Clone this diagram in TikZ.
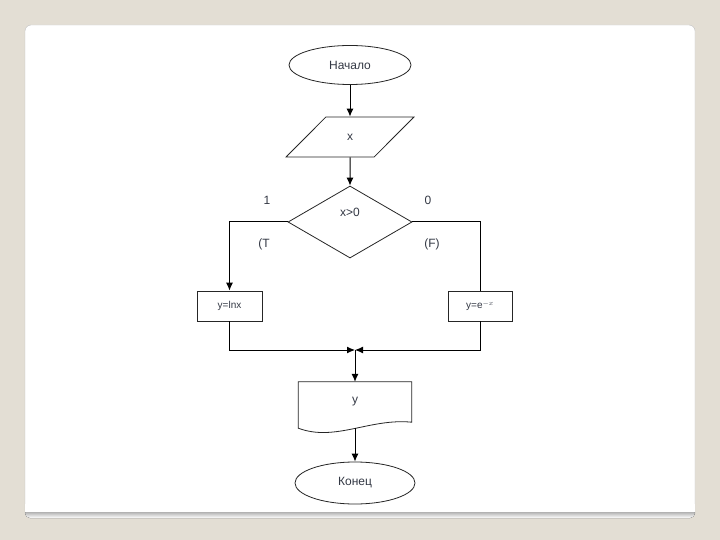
\documentclass[tikz,border=0pt]{standalone}
\usepackage{fontspec}
\setmainfont{Liberation Sans}
\usepackage{xcolor}
\usetikzlibrary{arrows.meta,shapes.geometric}
\definecolor{pagebg}{HTML}{E3DED4}
\definecolor{shade}{HTML}{9A968E}
\definecolor{ink}{HTML}{333844}

\begin{document}
\begin{tikzpicture}[x=1pt,y=1pt,font=\fontsize{12}{14}\selectfont,text=ink,
 term/.style={draw=black!85,line width=0.8pt,ellipse,minimum width=122pt,minimum height=39pt,inner sep=0pt},
 inout/.style={draw=black!85,line width=0.8pt,trapezium,trapezium left angle=52,trapezium right angle=128,trapezium stretches=true,minimum width=128pt,minimum height=40pt,inner sep=0pt},
 decide/.style={draw=black!85,line width=0.8pt,diamond,minimum width=124pt,minimum height=72pt,inner sep=0pt},
 proc/.style={draw=black!85,line width=0.8pt,rectangle,minimum width=65pt,minimum height=30pt,inner sep=0pt,font=\fontsize{10}{12}\selectfont},
 arr/.style={-{Latex[length=8pt,width=7pt]},line width=1pt},
 line/.style={line width=1pt}]
\useasboundingbox (0,0) rectangle (720,-540);
% page and card
\fill[pagebg] (0,0) rectangle (720,-540);
\fill[white,draw=black!25,rounded corners=6pt] (25,-25) rectangle (695,-518);
\fill[shade,rounded corners=5pt] (25,-508) rectangle (695,-518);
\fill[white] (25,-504) rectangle (695,-512);
% flowchart
\node[term] (start) at (350,-65) {Начало};
\node[inout] (inp) at (350,-137) {x};
\node[decide] (cond) at (350,-222) {};
\node (condtxt) at (350,-212) {x>0};
\node (one) at (267,-200) {1};
\node (zero) at (428,-200) {0};
\node (tlbl) at (264,-244) {(T};
\node (flbl) at (432,-244) {(F)};
\node[proc] (lnx) at (229.5,-306) {y=lnx};
\node[proc,minimum width=64pt] (expx) at (480,-306) {y=e$^{-x}$};
\coordinate (merge) at (355,-350);
\node (out) at (355,-402) [minimum width=113pt,minimum height=40pt,inner sep=0pt] {y};
\draw[black!85,line width=0.8pt] (out.north west) -- (out.north east) -- (out.south east)
  .. controls (370,-418) and (335,-442) .. ([yshift=-6pt]out.south west) -- cycle;
\node[term,minimum width=120pt,minimum height=42pt] (fin) at (355,-483) {Конец};
\draw[arr] (start) -- (inp);
\draw[arr] (inp) -- (cond);
\draw[arr] (cond.west) -| (lnx.north);
\draw[line] (cond.east) -| (expx.north);
\draw[arr] (lnx.south) |- (merge);
\draw[arr] (expx.south) |- (merge);
\draw[arr] (merge) -- (out.north);
\draw[arr] ([yshift=-6pt]out.south) -- (fin.north);
\end{tikzpicture}
\end{document}
